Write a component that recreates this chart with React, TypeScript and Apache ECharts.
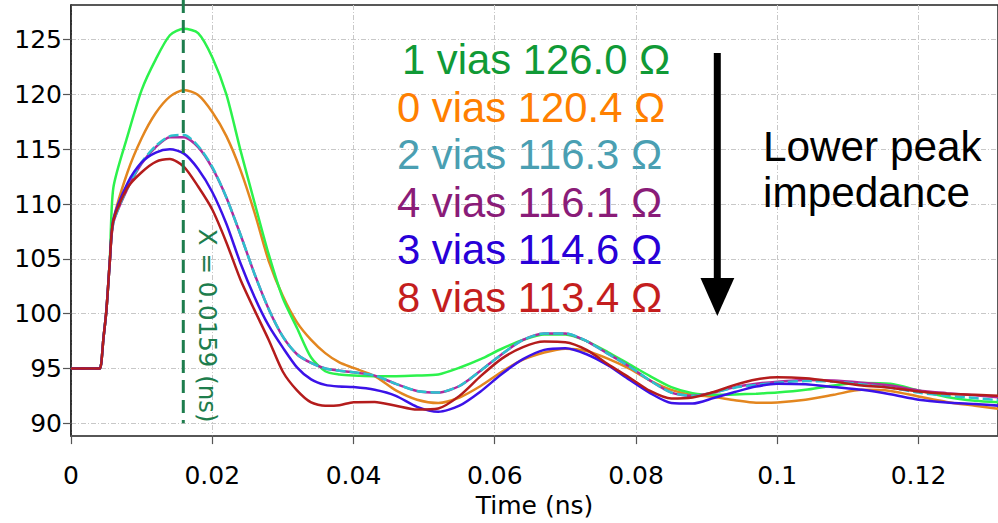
import React, { useEffect, useRef } from "react";
import * as echarts from "echarts";

// Time samples (ns)
const times = [
  0, 0.0036, 0.0041, 0.0046, 0.005, 0.0055, 0.006,
  0.008, 0.01, 0.012, 0.014, 0.016, 0.018, 0.02, 0.022, 0.024, 0.026, 0.028, 0.03, 0.032, 0.034, 0.036, 0.038, 0.04,
  0.043, 0.046, 0.049, 0.052, 0.055, 0.058, 0.061, 0.064, 0.067, 0.07, 0.073, 0.076, 0.079, 0.082, 0.085, 0.088, 0.091, 0.094, 0.097, 0.1,
  0.104, 0.108, 0.112, 0.116, 0.12, 0.124, 0.128, 0.1315,
];

const vias1 = [
  95, 95, 95, 97.8, 100.2, 105, 111.5,
  116.2, 120.4, 123.2, 125.4, 126.0, 125.6, 123.4, 120.0, 114.9, 110.1, 105.4, 101.4, 98.7, 96.0, 94.75, 94.45, 94.35,
  94.3, 94.3, 94.35, 94.45, 95.07, 95.85, 96.8, 97.6, 98.1, 98.1, 97.5, 96.5, 95.4, 94.3, 93.3, 92.75, 92.6, 92.63, 92.7, 92.8,
  93.05, 93.45, 93.67, 93.6, 93.0, 92.4, 92.05, 91.9,
];

const vias0 = [
  95, 95, 95, 97.8, 100.2, 104.8, 108.5,
  112.9, 116.0, 118.3, 119.8, 120.4, 119.95, 118.4, 116.2, 113.1, 109.2, 104.8, 101.6, 99.2, 97.6, 96.4, 95.55, 95.05,
  94.3, 93.0, 92.15, 91.85, 92.35, 93.4, 94.7, 95.8, 96.45, 96.8, 96.6, 95.9, 95.0, 93.9, 93.05, 92.6, 92.4, 92.1, 91.87, 91.9,
  92.15, 92.6, 93.05, 92.95, 92.45, 91.95, 91.6, 91.3,
];

const vias2 = [
  95, 95, 95, 97.8, 100.2, 104.8, 108.3,
  111.5, 113.8, 115.3, 116.2, 116.3, 115.3, 113.4, 110.6, 107.2, 103.6, 100.4, 97.9, 96.3, 95.5, 95.0, 94.8, 94.65,
  94.35, 93.6, 92.95, 92.8, 93.4, 94.8, 96.3, 97.6, 98.2, 98.2, 97.5, 96.35, 95.2, 93.9, 92.8, 92.5, 92.8, 93.25, 93.5, 93.7,
  93.85, 93.8, 93.55, 93.25, 92.8, 92.5, 92.3, 92.1,
];

const vias4 = [
  95, 95, 95, 97.8, 100.2, 104.8, 108.3,
  111.4, 113.7, 115.2, 116.1, 116.1, 115.2, 113.3, 110.6, 107.2, 103.6, 100.4, 97.9, 96.3, 95.5, 95.0, 94.8, 94.65,
  94.35, 93.6, 92.95, 92.8, 93.4, 94.8, 96.3, 97.6, 98.2, 98.2, 97.5, 96.35, 95.2, 93.9, 92.8, 92.5, 92.8, 93.3, 93.6, 93.8,
  93.95, 93.9, 93.7, 93.45, 93.0, 92.75, 92.55, 92.35,
];

const vias3 = [
  95, 95, 95, 97.8, 100.2, 104.8, 108.6,
  111.9, 113.8, 114.7, 115.0, 114.6, 113.2, 111.1, 108.2, 104.6, 101.5, 98.9, 96.9, 95.1, 94.0, 93.5, 93.35, 93.3,
  93.05, 92.5, 91.5, 91.05, 91.6, 92.9, 94.5, 95.85, 96.7, 96.85, 96.3, 95.3, 94.0, 92.75, 91.85, 91.8, 92.3, 92.85, 93.35, 93.6,
  93.55, 93.3, 93.05, 92.65, 92.15, 91.9, 91.75, 91.6,
];

const vias8 = [
  95, 95, 95, 97.8, 100.2, 104.8, 108.5,
  111.5, 112.9, 113.85, 114.1, 113.4, 111.6, 109.5, 106.5, 103.1, 100.3, 97.6, 94.7, 93.0, 91.9, 91.6, 91.65, 91.92,
  91.95, 91.6, 91.25, 91.35, 92.5, 94.3, 95.9, 96.95, 97.45, 97.4, 96.7, 95.4, 94.2, 92.95, 92.25, 92.35, 92.85, 93.5, 94.0, 94.2,
  94.1, 93.8, 93.45, 93.25, 92.9, 92.7, 92.6, 92.5,
];

const yTicks = [90, 95, 100, 105, 110, 115, 120, 125];
const xMin = 0;
const xMax = 0.13126;
const xInterval = 0.02;
const yMin = 88.83;
const yMax = 128.16;

const markerTime = 0.0159;
const markerBottom = 90;
const markerLabelValue = 98.9;
const markerLabel = "X = 0.0159 (ns)";

const peakLabels = [
  "1 vias 126.0 Ω",
  "0 vias 120.4 Ω",
  "2 vias 116.3 Ω",
  "4 vias 116.1 Ω",
  "3 vias 114.6 Ω",
  "8 vias 113.4 Ω",
];
const peakLabelColors = ["#109a36", "#ff8000", "#4a9fb2", "#8a1c78", "#2800d8", "#c41e1e"];
const noteLines = ["Lower peak", "impedance"];

const tickFont = "'DejaVu Sans', Verdana, sans-serif";
const annFont = "'Liberation Sans', Arial, sans-serif";

function pairs(vals: number[]) {
  return times.map((t, i) => [t, vals[i]]);
}

export default function App() {
  const ref = useRef<HTMLDivElement>(null);

  useEffect(() => {
    if (!ref.current) return;
    const chart = echarts.init(ref.current, null, { renderer: "svg" });

    const gridLine = { color: "#c8c8c8", width: 1, type: [5, 2, 1, 2] as any };

    const mkSeries = (name: string, vals: number[], color: string, extra: any = {}) => ({
      name,
      type: "line",
      data: pairs(vals),
      showSymbol: false,
      smooth: 0.25,
      lineStyle: { color, width: 2.5, ...extra },
      itemStyle: { color },
      z: 3,
    });

    chart.setOption({
      animation: false,
      grid: {
        left: 71,
        top: 5,
        width: 928,
        height: 437.7,
        show: true,
        borderColor: "#222",
        borderWidth: 1.5,
      },
      xAxis: {
        type: "value",
        min: xMin,
        max: xMax,
        interval: xInterval,
        name: "Time (ns)",
        nameLocation: "middle",
        nameGap: 53,
        nameTextStyle: { fontFamily: tickFont, fontSize: 25, color: "#000" },
        axisLine: { show: true, onZero: false, lineStyle: { color: "#555", width: 1.5 } },
        axisTick: { show: true, length: 8, lineStyle: { color: "#555", width: 1.2 } },
        axisLabel: {
          fontFamily: tickFont,
          fontSize: 25,
          color: "#000",
          margin: 27,
          showMaxLabel: false,
          formatter: (v: number) => String(+v.toFixed(4)),
        },
        splitLine: { show: true, lineStyle: gridLine },
      },
      yAxis: {
        type: "value",
        min: yMin,
        max: yMax,
        splitNumber: 8,
        minInterval: 5,
        maxInterval: 5,
        axisLine: { show: true, lineStyle: { color: "#222", width: 1.5 } },
        axisTick: { show: true, length: 8, customValues: yTicks, lineStyle: { color: "#555", width: 1.2 } },
        axisLabel: {
          customValues: yTicks,
          fontFamily: tickFont,
          fontSize: 25,
          color: "#000",
          margin: 9,
        },
        splitLine: { show: true, lineStyle: gridLine },
      },
      series: [
        mkSeries("0 vias", vias0, "#e3861f"),
        mkSeries("1 vias", vias1, "#2cf24c"),
        mkSeries("4 vias", vias4, "#b0289e"),
        mkSeries("2 vias", vias2, "#2cc2ce", { type: [10, 4] }),
        mkSeries("3 vias", vias3, "#3b12e8"),
        mkSeries("8 vias", vias8, "#b41c1c"),
      ],
    });

    const mx = chart.convertToPixel({ xAxisIndex: 0 }, markerTime) as number;
    const myBottom = chart.convertToPixel({ yAxisIndex: 0 }, markerBottom) as number;
    const myLabel = chart.convertToPixel({ yAxisIndex: 0 }, markerLabelValue) as number;

    const graphics: any[] = [];
    peakLabels.forEach((txt, i) => {
      graphics.push({
        type: "text",
        x: i === 0 ? 402 : 397,
        y: 59.8 + i * 47.5,
        z: 20,
        style: {
          text: txt,
          fill: peakLabelColors[i],
          fontFamily: annFont,
          fontSize: 41.8,
          align: "left",
          verticalAlign: "middle",
        },
      });
    });
    noteLines.forEach((txt, i) => {
      graphics.push({
        type: "text",
        x: 763,
        y: 146.5 + i * 46.3,
        z: 20,
        style: {
          text: txt,
          fill: "#000",
          fontFamily: annFont,
          fontSize: 42.3,
          align: "left",
          verticalAlign: "middle",
        },
      });
    });
    graphics.push({
      type: "line",
      z: 20,
      shape: { x1: 717.3, y1: 53, x2: 717.3, y2: 282 },
      style: { stroke: "#000", lineWidth: 7 },
    });
    graphics.push({
      type: "polygon",
      z: 20,
      shape: { points: [[700.5, 278], [734.3, 278], [717.3, 316]] },
      style: { fill: "#000" },
    });
    graphics.push({
      type: "line",
      z: 15,
      shape: { x1: mx, y1: 0, x2: mx, y2: myBottom },
      style: { stroke: "#1e7d4d", lineWidth: 3, lineDash: [13, 7] },
    });
    graphics.push({
      type: "text",
      x: mx + 24,
      y: myLabel,
      rotation: -Math.PI / 2,
      z: 15,
      style: {
        text: markerLabel,
        fill: "#1e7d4d",
        fontFamily: tickFont,
        fontSize: 24.5,
        align: "center",
        verticalAlign: "middle",
      },
    });

    chart.setOption({ graphic: graphics });

    return () => chart.dispose();
  }, []);

  return (
    <div
      ref={ref}
      style={{ position: "absolute", left: 0, top: 0, width: 998, height: 523, background: "#fff" }}
    />
  );
}
